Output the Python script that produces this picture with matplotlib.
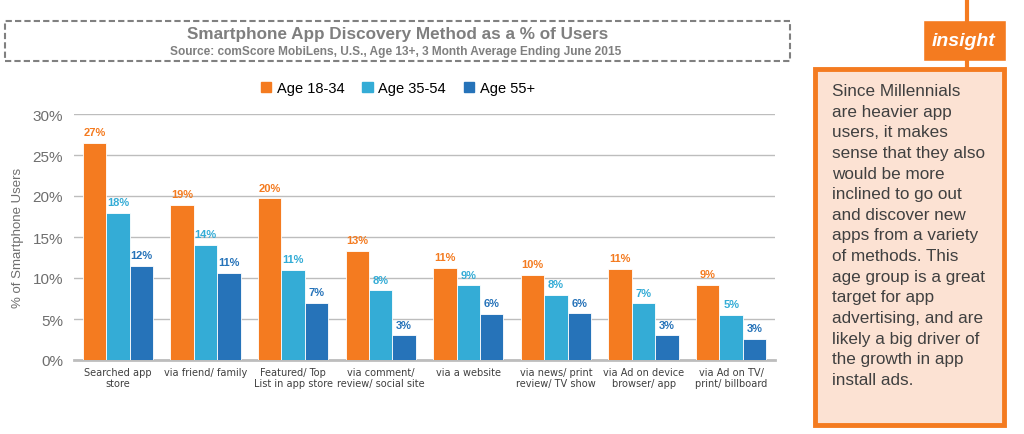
import numpy as np
import matplotlib.pyplot as plt
from matplotlib.patches import Rectangle
from matplotlib.lines import Line2D

categories = ["Searched app\nstore", "via friend/ family", "Featured/ Top\nList in app store",
              "via comment/\nreview/ social site", "via a website", "via news/ print\nreview/ TV show",
              "via Ad on device\nbrowser/ app", "via Ad on TV/\nprint/ billboard"]
series_names = ["Age 18-34", "Age 35-54", "Age 55+"]
age_18_34 = [26.5, 18.9, 19.7, 13.3, 11.2, 10.4, 11.1, 9.2]
age_35_54 = [17.9, 14.0, 11.0, 8.5, 9.1, 7.9, 6.9, 5.5]
age_55_up = [11.5, 10.6, 7.0, 3.0, 5.6, 5.7, 3.0, 2.6]
labels_18_34 = ["27%", "19%", "20%", "13%", "11%", "10%", "11%", "9%"]
labels_35_54 = ["18%", "14%", "11%", "8%", "9%", "8%", "7%", "5%"]
labels_55_up = ["12%", "11%", "7%", "3%", "6%", "6%", "3%", "3%"]
yticks = [0, 5, 10, 15, 20, 25, 30]

colors = ["#F47B20", "#34ACD6", "#2673B9"]
W, H = 1024, 435
fig = plt.figure(figsize=(W / 100, H / 100), dpi=100)
arial = ["Liberation Sans", "DejaVu Sans"]

ax = fig.add_axes([74 / W, 74 / H, 701 / W, 246 / H])
x = np.arange(len(categories))
bw = 0.267
series = [age_18_34, age_35_54, age_55_up]
labs = [labels_18_34, labels_35_54, labels_55_up]
for i, (vals, lb) in enumerate(zip(series, labs)):
    pos = x + (i - 1) * bw
    ax.bar(pos, vals, width=bw, color=colors[i], edgecolor="white", linewidth=0.6, zorder=3)
    for p, v, t in zip(pos, vals, lb):
        ax.text(p, v + 0.7, t, ha="center", va="bottom", fontsize=8, fontweight="bold",
                color=colors[i], family=arial)

ax.set_xlim(-0.5, len(categories) - 0.5)
ax.set_ylim(0, 30)
ax.set_yticks(yticks)
ax.set_yticklabels([f"{t}%" for t in yticks], fontsize=11, color="#6E6E6E", family=arial)
ax.set_xticks(x)
ax.set_xticklabels(categories, fontsize=7.8, color="#404040", family="DejaVu Sans",
                   fontstretch="condensed", linespacing=1.15)
ax.tick_params(axis="both", length=0, pad=8)
ax.tick_params(axis="x", pad=5)
ax.grid(axis="y", color="#BDBDBD", linewidth=1, zorder=0)
for s in ["top", "right", "left"]:
    ax.spines[s].set_visible(False)
ax.spines["bottom"].set_color("#BDBDBD")
ax.spines["bottom"].set_linewidth(2)
ax.set_ylabel("% of Smartphone Users", fontsize=9.5, color="#6E6E6E", family=arial, labelpad=6)

handles = [Rectangle((0, 0), 1, 1, color=c) for c in colors]
fig.legend(handles, series_names, loc="center", bbox_to_anchor=(398 / W, 1 - 89 / H),
           ncol=3, frameon=False, handlelength=0.7, handleheight=0.7,
           columnspacing=1.2, handletextpad=0.4, prop={"family": arial, "size": 10.5})

# title box
fig.patches.append(Rectangle((5 / W, 1 - 62 / H), 785 / W, 40 / H, transform=fig.transFigure,
                             fill=False, edgecolor="#808080", linestyle=(0, (3, 1.5)), linewidth=1.5))
fig.text(398 / W, 1 - 34 / H, "Smartphone App Discovery Method as a % of Users", ha="center",
         va="center", fontsize=12.3, fontweight="bold", color="#7F7F7F", family=arial)
fig.text(396 / W, 1 - 52 / H, "Source: comScore MobiLens, U.S., Age 13+, 3 Month Average Ending June 2015",
         ha="center", va="center", fontsize=8.6, fontweight="bold", color="#7F7F7F", family=arial)

# insight panel
orange = "#F47B20"
fig.lines.append(Line2D([967 / W, 967 / W], [1, 1 - 70 / H], transform=fig.transFigure,
                        color=orange, linewidth=3))
fig.patches.append(Rectangle((923 / W, 1 - 62 / H), 83 / W, 41 / H, transform=fig.transFigure,
                             facecolor=orange, edgecolor="white", linewidth=1))
fig.text(964 / W, 1 - 42 / H, "insight", ha="center", va="center", fontsize=14, fontweight="bold",
         style="italic", color="white", family=arial)
fig.patches.append(Rectangle((815 / W, 1 - 426 / H), 189 / W, 356 / H, transform=fig.transFigure,
                             facecolor="#FCE2D3", edgecolor=orange, linewidth=3.5))
note = ("Since Millennials\nare heavier app\nusers, it makes\nsense that they also\n"
        "would be more\ninclined to go out\nand discover new\napps from a variety\n"
        "of methods. This\nage group is a great\ntarget for app\nadvertising, and are\n"
        "likely a big driver of\nthe growth in app\ninstall ads.")
fig.text(832 / W, 1 - 84 / H, note, ha="left", va="top", fontsize=12.3, color="#404040",
         family=arial, linespacing=1.47)

fig.savefig("out.png", dpi=100)
